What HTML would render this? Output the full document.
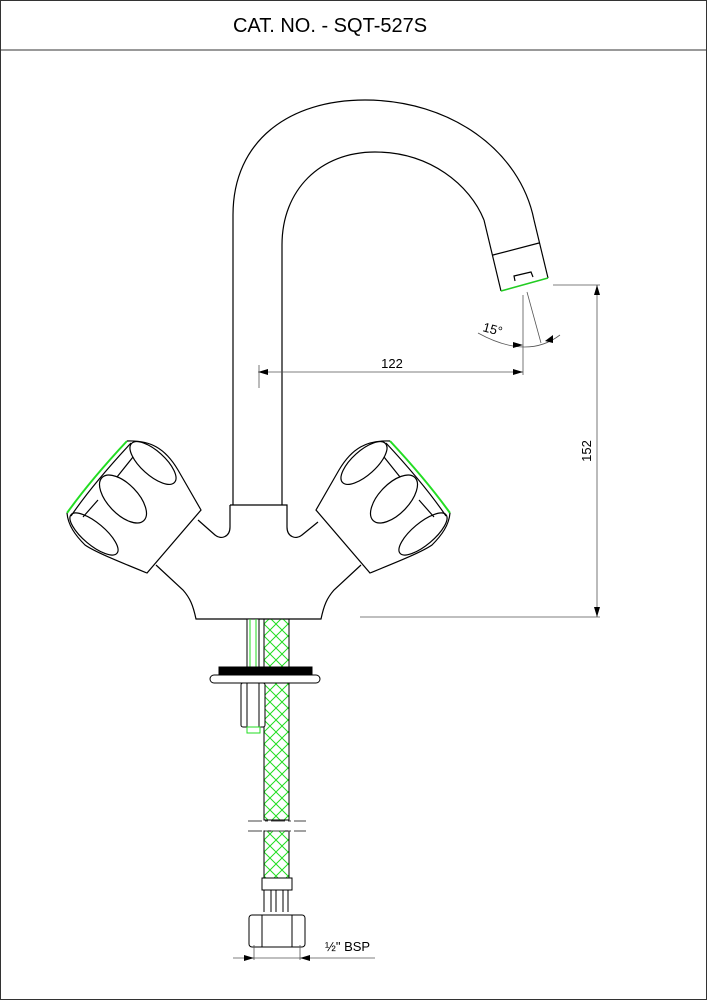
<!DOCTYPE html>
<html><head><meta charset="utf-8"><style>
html,body{margin:0;padding:0;background:#fff}
svg{display:block}
text{font-family:"Liberation Sans","DejaVu Sans",sans-serif}
</style></head><body>
<svg width="707" height="1000" viewBox="0 0 707 1000" xmlns="http://www.w3.org/2000/svg">
<defs>
<pattern id="hx" width="12" height="12" patternUnits="userSpaceOnUse">
<path d="M0,0 L12,12 M12,0 L0,12" stroke="#22dd22" stroke-width="1"/>
</pattern>
<marker id="ar" viewBox="0 0 10 6" refX="10" refY="3" markerWidth="10" markerHeight="6" orient="auto-start-reverse" markerUnits="userSpaceOnUse">
<path d="M0,0 L10,3 L0,6 z" fill="#000"/>
</marker>
</defs>
<rect x="0.5" y="0.5" width="706" height="999" fill="none" stroke="#333"/>
<line x1="0" y1="50" x2="707" y2="50" stroke="#333"/>
<text x="330" y="32" font-size="20" text-anchor="middle">CAT. NO. - SQT-527S</text>

<g fill="none" stroke="#000" stroke-width="1.2">
<!-- spout -->
<path d="M233,505 L233,215 C233,140 290,100 365,100 C450,100 520,150 534,220"/>
<path d="M282,505 L282,245 C282,190 320,152 375,152 C430,152 470,185 484,220"/>
<path d="M484,220 L501,291 M534,220 L548,278 M493,255 L539,243"/>
<path d="M515,281 L514,276 L531,272 L533,277"/>
<path d="M501,291 L548,278" stroke="#22cc22" stroke-width="1.6"/>
<!-- body -->
<path d="M230,505 L287,505 L287,527 C287,537 296,540 302,535 L318,522"/>
<path d="M230,505 L230,527 C230,537 221,540 215,535 L198,520"/>
<path d="M156,565 L183,590 C190,598 193,605 196,619 L321,619 C324,605 327,598 334,590 L361,565"/>
</g>
<!-- handles -->
<g id="hl" fill="none" stroke="#000" stroke-width="1.2">
<path d="M127,441 C150,440 165,448 178,470 L201,510 L147,573 C120,562 95,552 85,545 C75,535 68,525 67,513"/>
<path d="M127,441 C100,470 82,492 67,513" stroke="#22dd22" stroke-width="2"/>
<path d="M131,443 C104,472 86,494 71,516"/>
<ellipse cx="153" cy="463" rx="29" ry="12" transform="rotate(42 153 463)"/>
<ellipse cx="123" cy="499" rx="30" ry="15" transform="rotate(46 123 499)"/>
<ellipse cx="94" cy="534" rx="30" ry="11" transform="rotate(40 94 534)"/>
<path d="M133,457 L117,477 M98,500 L83,517"/>
</g>
<use href="#hl" transform="translate(517,0) scale(-1,1)"/>

<!-- pipes -->
<g stroke="#000" stroke-width="1">
<rect x="247" y="619" width="12" height="48" fill="#fff"/>
<line x1="250" y1="619" x2="250" y2="667" stroke="#22dd22"/>
<line x1="256" y1="619" x2="256" y2="667" stroke="#22dd22"/>
<rect x="264" y="619" width="25" height="201" fill="url(#hx)"/>
<rect x="264" y="831" width="25" height="47" fill="url(#hx)"/>
<rect x="219" y="667" width="93" height="8" fill="#000"/>
<rect x="210" y="675" width="110" height="8" rx="4" fill="#fff"/>
<rect x="241" y="683" width="24" height="44" rx="2" fill="#fff"/>
<line x1="247" y1="683" x2="247" y2="727"/><line x1="259" y1="683" x2="259" y2="727"/>
<rect x="247" y="727" width="13" height="6" fill="#fff" stroke="#22dd22"/>
<rect x="262" y="878" width="30" height="12" fill="#fff"/>
<path d="M264,890 V912 M271,890 V912 M276,890 V912 M283,890 V912 M288,890 V912" fill="none"/>
<rect x="249" y="915" width="56" height="32" rx="3" fill="#fff"/>
<path d="M262,915 V947 M292,915 V947" fill="none"/>
</g>
<g stroke="#444" stroke-width="1" stroke-dasharray="14,3,3,3">
<line x1="248" y1="821" x2="306" y2="821"/><line x1="248" y1="831" x2="306" y2="831"/>
</g>

<!-- dimensions -->
<g stroke="#555" stroke-width="0.8" fill="none">
<line x1="258" y1="372" x2="523" y2="372" marker-start="url(#ar)" marker-end="url(#ar)"/>
<line x1="259" y1="365" x2="259" y2="388"/>
<line x1="523" y1="295" x2="523" y2="375"/>
<line x1="527" y1="292" x2="541" y2="343"/>
<path d="M478,333 Q527,360 560,335"/>
<line x1="553" y1="285" x2="600" y2="285"/>
<line x1="360" y1="617" x2="600" y2="617"/>
<line x1="597" y1="285" x2="597" y2="617" marker-start="url(#ar)" marker-end="url(#ar)"/>
<line x1="233" y1="958" x2="375" y2="958"/>
<line x1="254" y1="945" x2="254" y2="960"/><line x1="300" y1="945" x2="300" y2="960"/>
</g>
<path d="M254,958 l-10,-3 v6z M300,958 l10,-3 v6z M523,345 l-10,-3 v6z M545,341 l8,-6 v8z" fill="#000"/>
<text x="392" y="368" font-size="13" text-anchor="middle">122</text>
<text x="0" y="0" font-size="13" text-anchor="middle" transform="translate(591,451) rotate(-90)">152</text>
<text x="0" y="0" font-size="13" transform="translate(482,331) rotate(15)">15°</text>
<text x="325" y="951" font-size="13">½" BSP</text>
</svg>
</body></html>
